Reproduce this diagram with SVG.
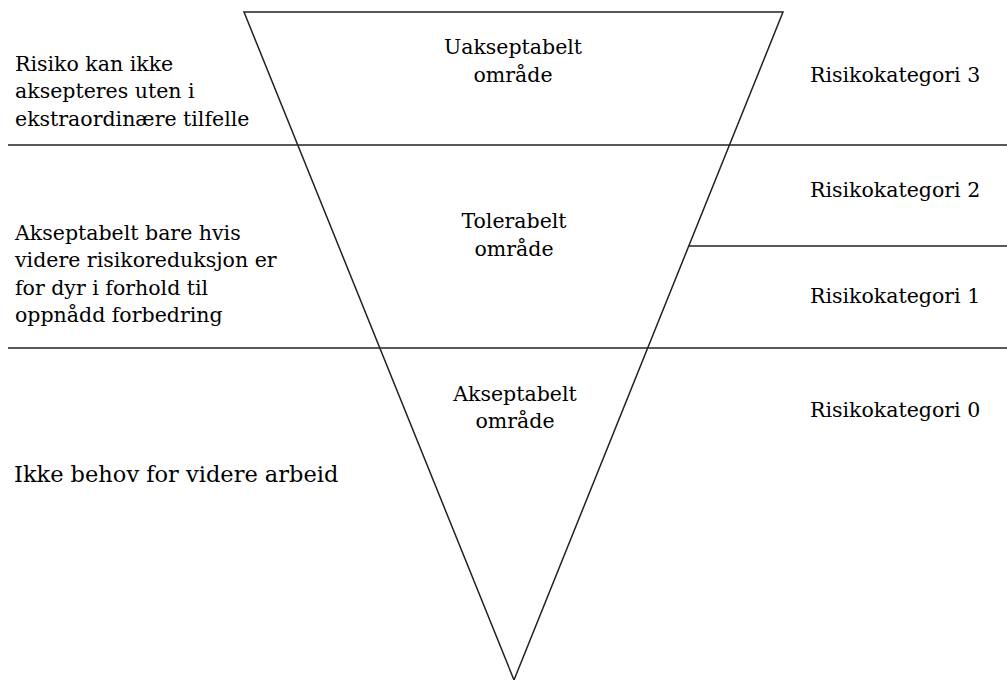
<svg xmlns="http://www.w3.org/2000/svg" width="1007" height="680" viewBox="0 0 1007 680">
<style>
text{font-family:'DejaVu Serif','Liberation Serif',serif;font-size:20.5px;fill:#000}
.c{text-anchor:middle}
.big{font-size:22.5px}
.ln{stroke:#222;stroke-width:1.5;fill:none}
</style>
<rect width="1007" height="680" fill="#fff"/>
<g id="connectors">
<line class="ln" x1="8" y1="145" x2="1007" y2="145"/>
<line class="ln" x1="8" y1="348" x2="1007" y2="348"/>
<line class="ln" x1="689" y1="246" x2="1007" y2="246"/>
</g>
<g id="triangle">
<polygon class="ln" points="244,12 783,12 514,680"/>
</g>
<g id="zone-unacceptable">
<text class="c" x="513" y="54">Uakseptabelt</text>
<text class="c" x="513" y="82">område</text>
</g>
<g id="zone-tolerable">
<text class="c" x="514" y="228">Tolerabelt</text>
<text class="c" x="514" y="256">område</text>
</g>
<g id="zone-acceptable">
<text class="c" x="515" y="401">Akseptabelt</text>
<text class="c" x="515" y="428">område</text>
</g>
<g id="left-top">
<text x="15" y="71">Risiko kan ikke</text>
<text x="15" y="98">aksepteres uten i</text>
<text x="15" y="126">ekstraordinære tilfelle</text>
</g>
<g id="left-mid">
<text x="15" y="240">Akseptabelt bare hvis</text>
<text x="15" y="267">videre risikoreduksjon er</text>
<text x="15" y="295">for dyr i forhold til</text>
<text x="15" y="322">oppnådd forbedring</text>
</g>
<g id="left-bottom">
<text class="big" x="14" y="482">Ikke behov for videre arbeid</text>
</g>
<g id="cat3"><text x="810" y="82">Risikokategori 3</text></g>
<g id="cat2"><text x="810" y="197">Risikokategori 2</text></g>
<g id="cat1"><text x="810" y="303">Risikokategori 1</text></g>
<g id="cat0"><text x="810" y="417">Risikokategori 0</text></g>
</svg>
